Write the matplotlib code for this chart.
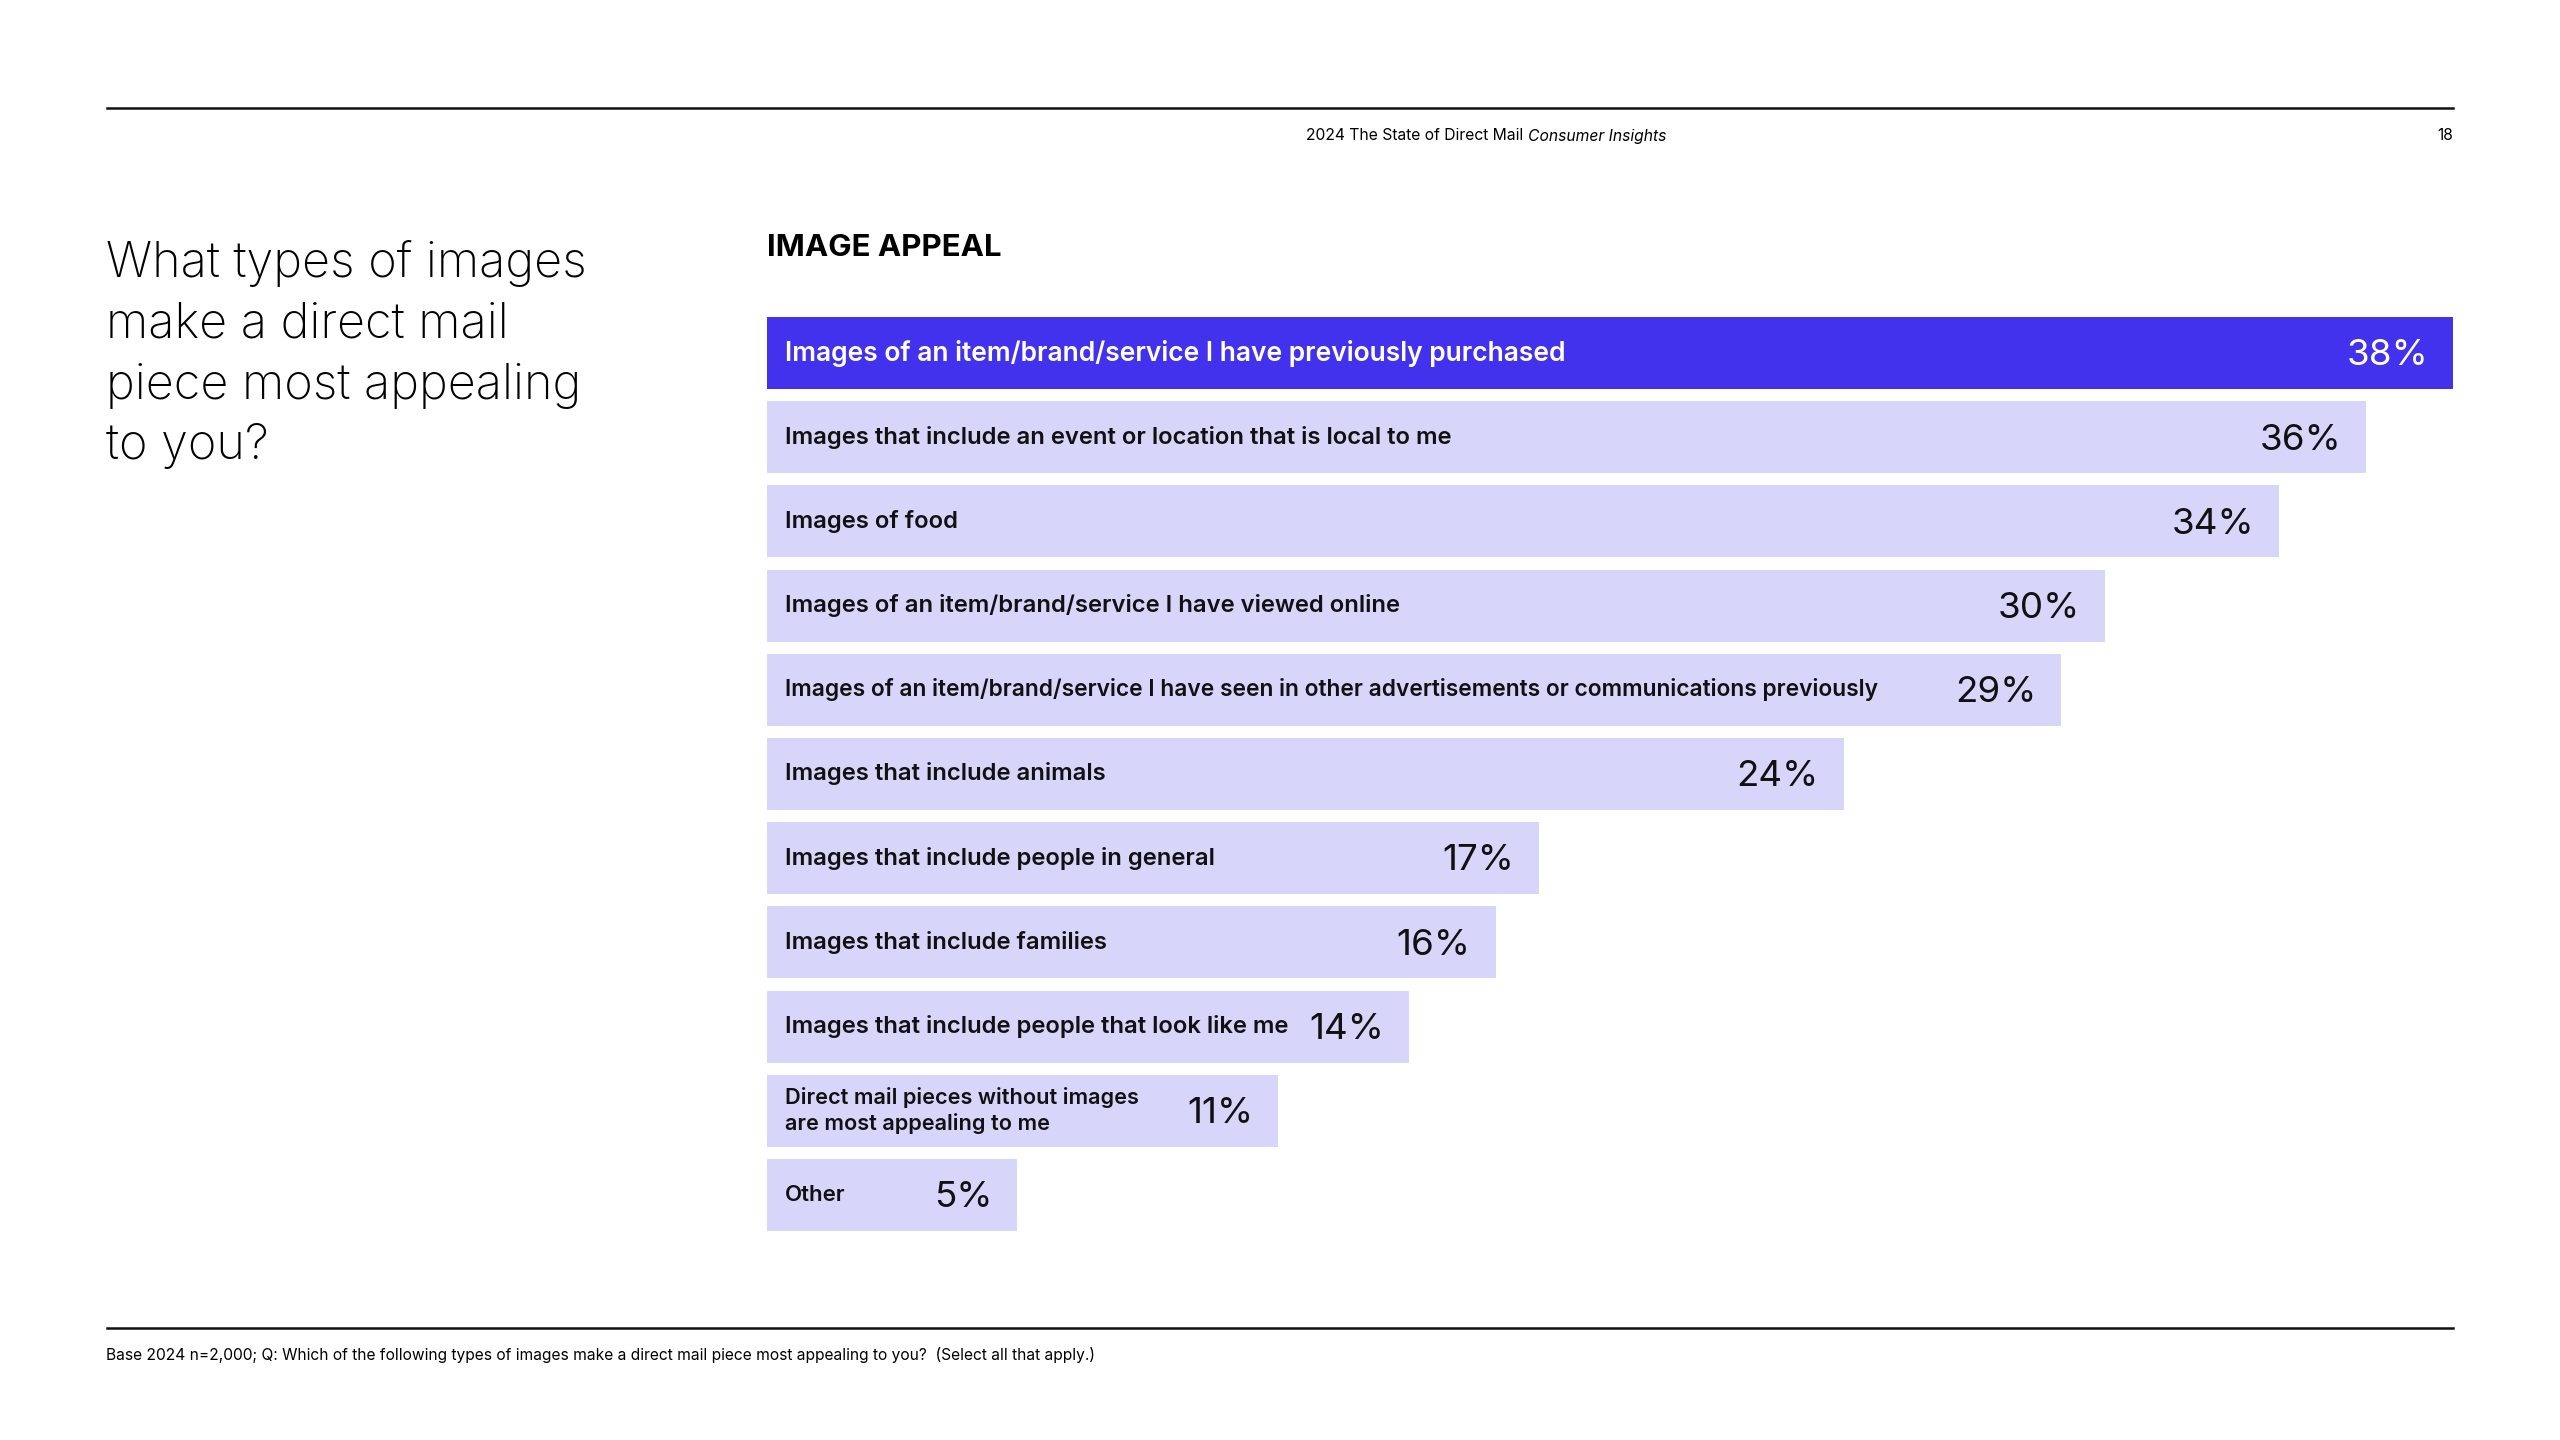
import numpy as np
import matplotlib
matplotlib.use("Agg")
import matplotlib.pyplot as plt

# --- datos ---
labels = [
    "Images of an item/brand/service I have previously purchased",
    "Images that include an event or location that is local to me",
    "Images of food",
    "Images of an item/brand/service I have viewed online",
    "Images of an item/brand/service I have seen in other advertisements or communications previously",
    "Images that include animals",
    "Images that include people in general",
    "Images that include families",
    "Images that include people that look like me",
    "Direct mail pieces without images\nare most appealing to me",
    "Other",
]
values = [38, 36, 34, 30, 29, 24, 17, 16, 14, 11, 5]

title = "What types of images\nmake a direct mail\npiece most appealing\nto you?"
chart_title = "IMAGE APPEAL"
header = "2024 The State of Direct Mail "
header_it = "Consumer Insights"
page = "18"
footnote = ("Base 2024 n=2,000; Q: Which of the following types of images make a direct mail "
            "piece most appealing to you?  (Select all that apply.)")

DARK = "#4232EE"
LIGHT = "#D8D5FA"
FONT = "Inter"

W, H = 2560, 1440
fig = plt.figure(figsize=(25.6, 14.4), dpi=100)
fig.patch.set_facecolor("white")

def fx(px):
    return px / W

def fy(py):
    return 1 - py / H

# reglas horizontales
fig.add_artist(plt.Line2D([fx(107), fx(2453)], [fy(108), fy(108)], color="#111111", lw=1.8))
fig.add_artist(plt.Line2D([fx(107), fx(2453)], [fy(1328), fy(1328)], color="#111111", lw=1.8))

# cabecera
t_head = fig.text(fx(1306), fy(136), header, fontsize=11.3, family=FONT, va="center", ha="left")
fig.canvas.draw()
bb = t_head.get_window_extent()
fig.text(bb.x1 / W, fy(136), header_it, fontsize=11.3, family=FONT, style="italic",
         va="center", ha="left")
fig.text(fx(2453), fy(136), page, fontsize=11.3, family=FONT, va="center", ha="right")

# pregunta
fig.text(fx(106), fy(240), title, fontsize=35, family=FONT, fontweight="light",
         va="top", ha="left", linespacing=1.41)

fig.text(fx(767), fy(248), chart_title, fontsize=22.5, family=FONT, fontweight="bold",
         va="center", ha="left")

# barras
ax = fig.add_axes([fx(767), fy(1237), fx(2453) - fx(767), (1237 - 311) / H])
pad = 0.75
y = np.arange(len(values))
colors = [DARK] + [LIGHT] * (len(values) - 1)
ax.barh(y, np.array(values) + pad, left=-pad, height=0.855, color=colors)
ax.set_xlim(-pad, 38)
ax.set_ylim(len(values) - 0.5, -0.5)
ax.axis("off")

for i, (lab, v) in enumerate(zip(labels, values)):
    tc = "white" if i == 0 else "#111111"
    if i == 0:
        fs = 19
    elif "\n" in lab:
        fs = 15.6
    elif lab == "Other":
        fs = 16
    elif len(lab) > 80:
        fs = 16.4
    else:
        fs = 17.2
    ax.annotate(lab, xy=(-pad, i), xytext=(13, 0), textcoords="offset points",
                va="center", ha="left", color=tc, family=FONT, fontweight="semibold",
                fontsize=fs, linespacing=1.32)
    ax.annotate(f"{v}%", xy=(v, i), xytext=(-18, -2), textcoords="offset points",
                va="center", ha="right", color=tc, family=FONT, fontsize=26.5)

fig.text(fx(106), fy(1355), footnote, fontsize=11.2, family=FONT, va="center", ha="left")

fig.savefig("out.png", dpi=100)
